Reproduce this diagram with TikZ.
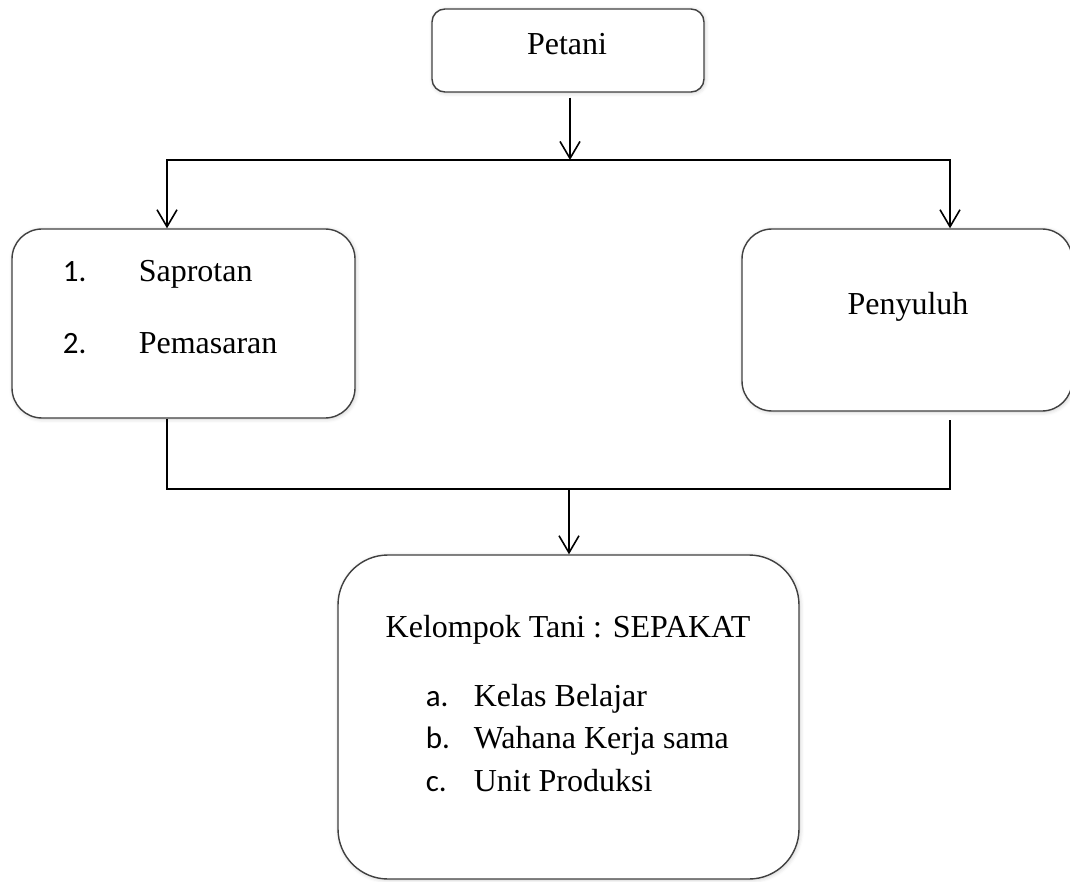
\documentclass[tikz,border=0pt]{standalone}
\usepackage{fontspec}
\setmainfont{Liberation Serif}
\newfontfamily\numfont{Carlito}
\usetikzlibrary{arrows.meta, shadows.blur}

\begin{document}
\begin{tikzpicture}[x=1pt, y=-1pt,
    box/.style={draw=black!75, line width=1.4pt, fill=white, rounded corners=#1,
      blur shadow={shadow xshift=1pt, shadow yshift=-1pt, shadow blur radius=4pt, shadow opacity=20}},
    box/.default=30pt,
    txt/.style={font=\fontsize{32}{38}\selectfont, inner sep=0pt},
    num/.style={font=\numfont\fontsize{31}{38}\selectfont, inner sep=0pt},
    >={Straight Barb[length=17pt, width=20pt]}, line width=1.6pt]

  \useasboundingbox (0,0) rectangle (1070,882);

  % boxes
  \node[box=13pt, minimum width=272pt, minimum height=83pt] (petani) at (568,50.5) {};
  \node[box, minimum width=343pt, minimum height=189pt] (usaha) at (183.5,323.5) {};
  \node[box, minimum width=330pt, minimum height=182pt] (penyuluh) at (907,320) {};
  \node[box=50pt, minimum width=461pt, minimum height=324pt] (kelompok) at (568.5,717) {};

  % texts
  \node[txt, anchor=base] (tpetani) at (567,55) {Petani};
  \node[num, anchor=base west] (n1) at (62,282) {1.};
  \node[txt, anchor=base west] (saprotan) at (138,282) {Saprotan};
  \node[num, anchor=base west] (n2) at (62,353) {2.};
  \node[txt, anchor=base west] (pemasaran) at (138,353) {Pemasaran};
  \node[txt, anchor=base] (tpenyuluh) at (908,315) {Penyuluh};
  \node[txt, anchor=base] (judul) at (568,637) {Kelompok Tani : SEPAKAT};
  \node[num, anchor=base west] (la) at (425,706) {a.};
  \node[txt, anchor=base west] (kelas) at (473,706) {Kelas Belajar};
  \node[num, anchor=base west] (lb) at (425,748) {b.};
  \node[txt, anchor=base west] (wahana) at (473,748) {Wahana Kerja sama};
  \node[num, anchor=base west] (lc) at (425,791) {c.};
  \node[txt, anchor=base west] (unit) at (473,791) {Unit Produksi};

  % connectors
  \coordinate (topL) at (167,160);
  \coordinate (topR) at (950,160);
  \coordinate (topM) at (570,160);
  \coordinate (botL) at (167,489);
  \coordinate (botR) at (950,489);
  \coordinate (botM) at (569,489);
  \coordinate (penyEnd) at (950,420);

  \draw[->, shorten <=5pt] (topM |- petani.south) -- (topM);
  \draw[->] (topR) -- (topL) -- (topL |- usaha.north);
  \draw[->] (topL) -- (topR) -- (topR |- penyuluh.north);
  \draw (topL |- usaha.south) -- (botL) -- (botR) -- (penyEnd);
  \draw[->] (botM) -- (botM |- kelompok.north);
\end{tikzpicture}
\end{document}
